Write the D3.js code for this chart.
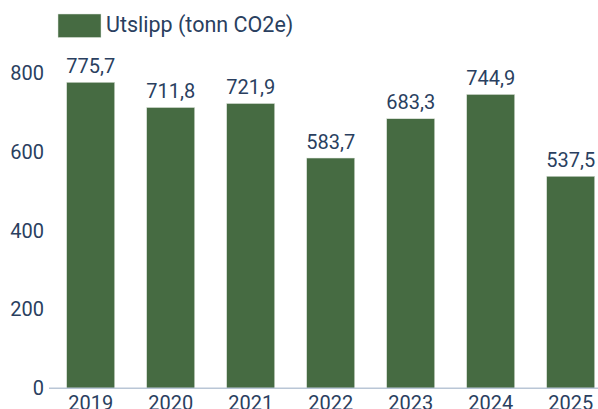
<!DOCTYPE html>
<html>
<head>
<meta charset="utf-8">
<script src="https://cdn.jsdelivr.net/npm/d3@7"></script>
<style>
  html, body { margin: 0; padding: 0; background: #fff; overflow: hidden; }
  svg { display: block; }
  text { font-family: Roboto, "Noto Sans", sans-serif; fill: #2a3f5f; }
</style>
</head>
<body>
<svg id="chart" width="598" height="409"></svg>
<script>
// Annual emissions, tonnes CO2e
const years = ["2019", "2020", "2021", "2022", "2023", "2024", "2025"];
const emissions = [775.7, 711.8, 721.9, 583.7, 683.3, 744.9, 537.5];
const yTicks = [0, 200, 400, 600, 800];
const seriesName = "Utslipp (tonn CO2e)";

const barColor = "#466b42";
const svg = d3.select("#chart");

const x = d3.scaleBand()
  .domain(years)
  .range([50.7, 610.7])
  .paddingInner(0.4)
  .paddingOuter(0.2);

const y = d3.scaleLinear()
  .domain([0, 800])
  .range([388.3, 72.7]);

const fmt = v => d3.format(".1f")(v).replace(".", ",");

// bars
svg.append("g")
  .selectAll("rect")
  .data(emissions)
  .join("rect")
  .attr("x", (d, i) => x(years[i]))
  .attr("width", x.bandwidth())
  .attr("y", d => y(d))
  .attr("height", d => y(0) - y(d))
  .attr("fill", barColor)
  .attr("stroke", "#dfe6dd")
  .attr("stroke-width", 0.5);

// value labels
svg.append("g")
  .selectAll("text")
  .data(emissions)
  .join("text")
  .attr("x", (d, i) => x(years[i]) + x.bandwidth() / 2)
  .attr("y", d => y(d) - 9.5)
  .attr("text-anchor", "middle")
  .style("font-size", "20px")
  .text(d => fmt(d));

// baseline
svg.append("line")
  .attr("x1", 49).attr("x2", 598)
  .attr("y1", y(0)).attr("y2", y(0))
  .attr("stroke", "#b9c6d6")
  .attr("stroke-width", 1.5);

// y tick labels
svg.append("g")
  .selectAll("text")
  .data(yTicks)
  .join("text")
  .attr("x", 44)
  .attr("y", d => y(d))
  .attr("dy", "0.35em")
  .attr("text-anchor", "end")
  .style("font-size", "20px")
  .text(d => d);

// x tick labels
svg.append("g")
  .selectAll("text")
  .data(years)
  .join("text")
  .attr("x", d => x(d) + x.bandwidth() / 2)
  .attr("y", 410)
  .attr("text-anchor", "middle")
  .style("font-size", "20px")
  .text(d => d);

// legend
const legend = svg.append("g");
legend.append("rect")
  .attr("x", 58).attr("y", 14)
  .attr("width", 43).attr("height", 23.5)
  .attr("fill", barColor)
  .attr("stroke", "#dfe6dd")
  .attr("stroke-width", 0.5);
legend.append("text")
  .attr("x", 106).attr("y", 32)
  .style("font-size", "21.5px")
  .text(seriesName);
</script>
</body>
</html>
